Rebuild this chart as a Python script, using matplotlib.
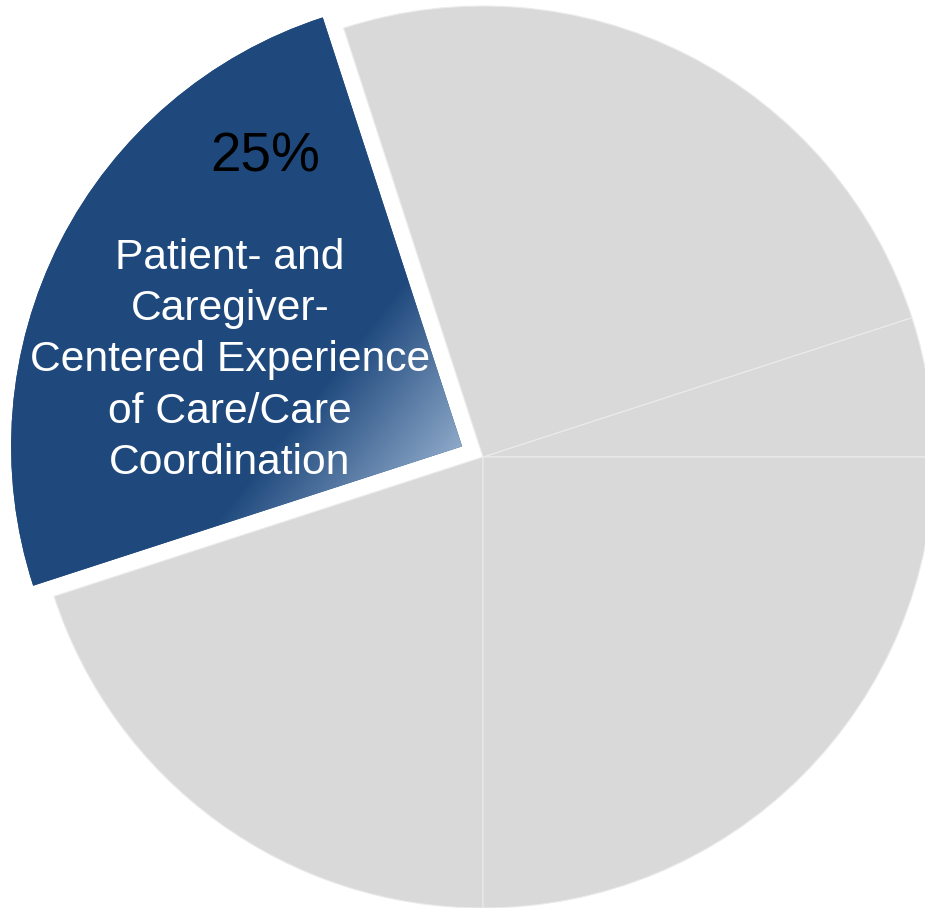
import matplotlib
matplotlib.use("Agg")
import matplotlib.pyplot as plt
import numpy as np

# === data (counter-clockwise from 3 o'clock) ===
shares = [5, 25, 25, 20, 25]
highlight = [False, False, True, False, False]
pct_label = "25%"
category = "Patient- and\nCaregiver-\nCentered Experience\nof Care/Care\nCoordination"

gray = "#D9D9D9"
dark_blue = "#1F497D"
light_blue = "#8EA9C9"

plt.rcParams["font.family"] = ["Liberation Sans", "DejaVu Sans"]

fig = plt.figure(figsize=(9.25, 9.08), dpi=100)
ax = fig.add_axes([0, 0, 1, 1])

colors = [dark_blue if h else gray for h in highlight]
explode = [0.052 if h else 0 for h in highlight]

wedges, _ = ax.pie(shares, colors=colors, explode=explode, startangle=0,
                   counterclock=True, radius=1.0,
                   wedgeprops=dict(edgecolor="#EBEBEB", linewidth=0.8))

# blue wedge: no edge, gradient fill
blue = wedges[highlight.index(True)]
blue.set_edgecolor("none")
blue.set_linewidth(0)

# linear gradient: dark up-left, lighter towards the apex
gx = np.linspace(-1.1, 1.0, 600)
gy = np.linspace(-1.05, 1.05, 600)
X, Y = np.meshgrid(gx, gy)
p0 = np.array([-0.532, -0.0665])
n = np.array([0.786, -0.619])
t = ((X - p0[0]) * n[0] + (Y - p0[1]) * n[1]) / 0.328
t = np.clip(t, 0, 1)
c0 = np.array(matplotlib.colors.to_rgb(dark_blue))
c1 = np.array(matplotlib.colors.to_rgb(light_blue))
img = c0[None, None, :] * (1 - t[..., None]) + c1[None, None, :] * t[..., None]
im = ax.imshow(img, extent=(gx[0], gx[-1], gy[0], gy[-1]), origin="lower",
               zorder=blue.get_zorder() + 0.1, interpolation="bilinear")
im.set_clip_path(blue)

ax.text(-0.483, 0.665, pct_label, ha="center", va="center", fontsize=39.5,
        color="black", zorder=5)
ax.text(-0.561, 0.214, category, ha="center", va="center", fontsize=30.7,
        color="white", linespacing=1.37, zorder=5)

ax.set_xlim(-483 / 451, (925 - 483) / 451)
ax.set_ylim(-451 / 451, 457 / 451)
ax.set_aspect("auto")
ax.axis("off")

fig.savefig("out.png", dpi=100, facecolor="white")
